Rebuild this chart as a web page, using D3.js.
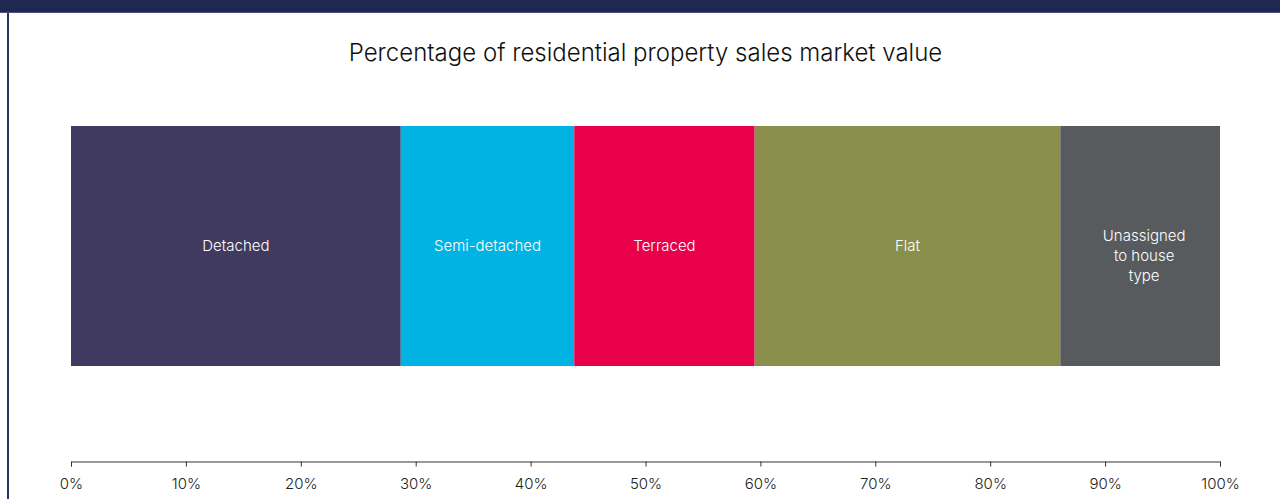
<!DOCTYPE html>
<html>
<head>
<meta charset="utf-8">
<script src="https://cdn.jsdelivr.net/npm/d3@7"></script>
<style>
  html, body { margin: 0; padding: 0; background: #fff; }
  body { width: 1280px; height: 499px; overflow: hidden; position: relative; font-family: Inter, "Noto Sans", sans-serif; }
  .topbar { position: absolute; left: 0; top: 0; width: 1280px; height: 12px; background: #1f2850; border-bottom: 1px solid #4a5078; }
  .leftrule { position: absolute; left: 7px; top: 13px; width: 2px; height: 486px; background: #2c3260; }
  svg { position: absolute; left: 0; top: 0; }
</style>
</head>
<body>
<div class="topbar"></div>
<div class="leftrule"></div>
<svg id="chart" width="1280" height="499"></svg>
<script>
// Share of residential property sales market value, by house type
const categories = ["Detached", "Semi-detached", "Terraced", "Flat", "Unassigned to house type"];
const shares = [28.7, 15.1, 15.7, 26.6, 13.9];
const colors = ["#403a60", "#00b3e3", "#e8004c", "#8a8f4c", "#575b5e"];
const tickValues = [0, 10, 20, 30, 40, 50, 60, 70, 80, 90, 100];
const labelLines = [["Detached"], ["Semi-detached"], ["Terraced"], ["Flat"], ["Unassigned", "to house", "type"]];

const svg = d3.select("#chart");
const x = d3.scaleLinear().domain([0, 100]).range([71, 1220]);
const barTop = 126, barBottom = 366;

svg.append("text")
  .attr("x", (x(0) + x(100)) / 2)
  .attr("y", 61)
  .attr("text-anchor", "middle")
  .attr("font-size", 24)
  .attr("font-weight", 300)
  .attr("fill", "#111")
  .text("Percentage of residential property sales market value");

// cumulative starts
let acc = 0;
const segs = categories.map((c, i) => {
  const s = { name: c, start: acc, end: acc + shares[i], color: colors[i], lines: labelLines[i] };
  acc += shares[i];
  return s;
});

const g = svg.append("g");
g.selectAll("rect").data(segs).join("rect")
  .attr("x", d => x(d.start))
  .attr("y", barTop)
  .attr("width", d => x(d.end) - x(d.start))
  .attr("height", barBottom - barTop)
  .attr("fill", d => d.color);

// wrapped labels start at the bar's middle line
const lh = 20;
g.selectAll("text.lbl").data(segs).join("text")
  .attr("class", "lbl")
  .attr("text-anchor", "middle")
  .attr("font-size", 15)
  .attr("font-weight", 300)
  .attr("fill", "#fff")
  .each(function(d) {
    const t = d3.select(this);
    const multi = d.lines.length > 1;
    const cx = (x(d.start) + x(d.end)) / 2 + (multi ? 4 : 0);
    const cy = (barTop + barBottom) / 2;
    const y0 = cy - (multi ? lh / 2 : 0);
    d.lines.forEach((ln, k) => {
      t.append("tspan").attr("x", cx).attr("y", y0 + k * lh).attr("dy", "0.35em").text(ln);
    });
  });

const axis = d3.axisBottom(x).tickValues(tickValues).tickFormat(d => d + "%").tickSize(5).tickPadding(12);
const ax = svg.append("g").attr("transform", "translate(0,461.5)").call(axis);
ax.select(".domain").attr("stroke", "#333");
ax.selectAll(".tick line").attr("stroke", "#333");
ax.selectAll(".tick text").attr("font-size", 15).attr("font-weight", 300).attr("fill", "#222").attr("font-family", "Inter, 'Noto Sans', sans-serif");
</script>
</body>
</html>
